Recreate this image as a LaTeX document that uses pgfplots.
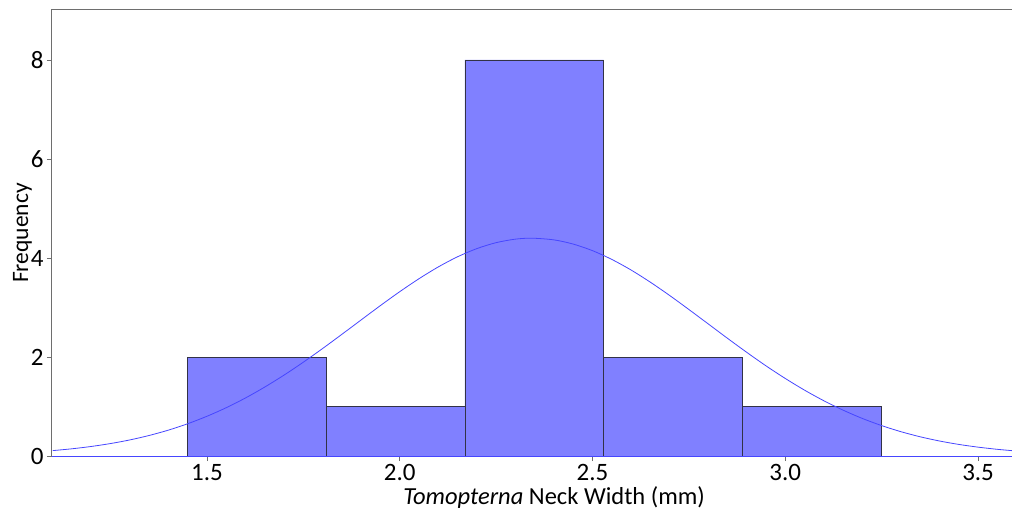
\documentclass[border=0pt]{standalone}
\usepackage{pgfplots}
\pgfplotsset{compat=1.18}
\usepackage{fontspec}
\setmainfont{Carlito}
\definecolor{barfill}{RGB}{128,128,255}
\definecolor{baredge}{RGB}{50,50,70}
\definecolor{curve}{RGB}{70,70,255}
\definecolor{spine}{RGB}{110,110,110}
\begin{document}
\begin{tikzpicture}
\begin{axis}[
  scale only axis,
  width=960pt, height=446pt,
  xmin=1.098, xmax=3.588,
  ymin=0, ymax=9.01,
  xtick={1.5,2.0,2.5,3.0,3.5},
  xticklabels={1.5,2.0,2.5,3.0,3.5},
  ytick={0,2,4,6,8},
  tick align=outside,
  major tick length=5pt,
  xtick pos=bottom, ytick pos=left,
  tick style={spine, line width=0.8pt},
  axis line style={spine, line width=1pt},
  ticklabel style={font=\fontsize{25}{30}\selectfont},
  /pgf/number format/assume math mode=true,
  xlabel={\textit{Tomopterna} Neck Width (mm)},
  ylabel={Frequency},
  every axis x label/.style={at={(axis description cs:0.523,0)}, anchor=base, yshift=-48pt, font=\fontsize{24.5}{29}\selectfont},
  every axis y label/.style={at={(axis description cs:-0.025,0.5)}, anchor=base, rotate=90, font=\fontsize{23.5}{28}\selectfont},
  clip=true,
]
\addplot[ybar interval, fill=barfill, draw=baredge, line width=0.8pt] coordinates {
 (1.449,2) (1.809,1) (2.169,8) (2.529,2) (2.889,1) (3.249,1)
};
\addplot[curve, line width=0.8pt, smooth] coordinates {
(1.10,0.109) (1.15,0.146) (1.20,0.193) (1.25,0.252) (1.30,0.325) (1.35,0.415)
(1.40,0.523) (1.45,0.652) (1.50,0.803) (1.55,0.976) (1.60,1.173) (1.65,1.394)
(1.70,1.635) (1.75,1.896) (1.80,2.172) (1.85,2.459) (1.90,2.750) (1.95,3.040)
(2.00,3.320) (2.05,3.582) (2.10,3.820) (2.15,4.025) (2.20,4.190) (2.25,4.310)
(2.30,4.381) (2.343,4.400) (2.40,4.366) (2.45,4.281) (2.50,4.148) (2.55,3.971)
(2.60,3.757) (2.65,3.511) (2.70,3.243) (2.75,2.959) (2.80,2.669) (2.85,2.378)
(2.90,2.094) (2.95,1.821) (3.00,1.566) (3.05,1.330) (3.10,1.116) (3.15,0.926)
(3.20,0.758) (3.25,0.614) (3.30,0.491) (3.35,0.388) (3.40,0.303) (3.45,0.234)
(3.50,0.179) (3.55,0.135) (3.60,0.100)
};
\addplot[curve, line width=1pt] coordinates {(1.098,0) (3.588,0)};
\end{axis}
\pgfresetboundingbox
\path (current axis.south west) ++(-52pt,-59pt) rectangle ([yshift=10pt]current axis.north east);
\end{tikzpicture}
\end{document}
